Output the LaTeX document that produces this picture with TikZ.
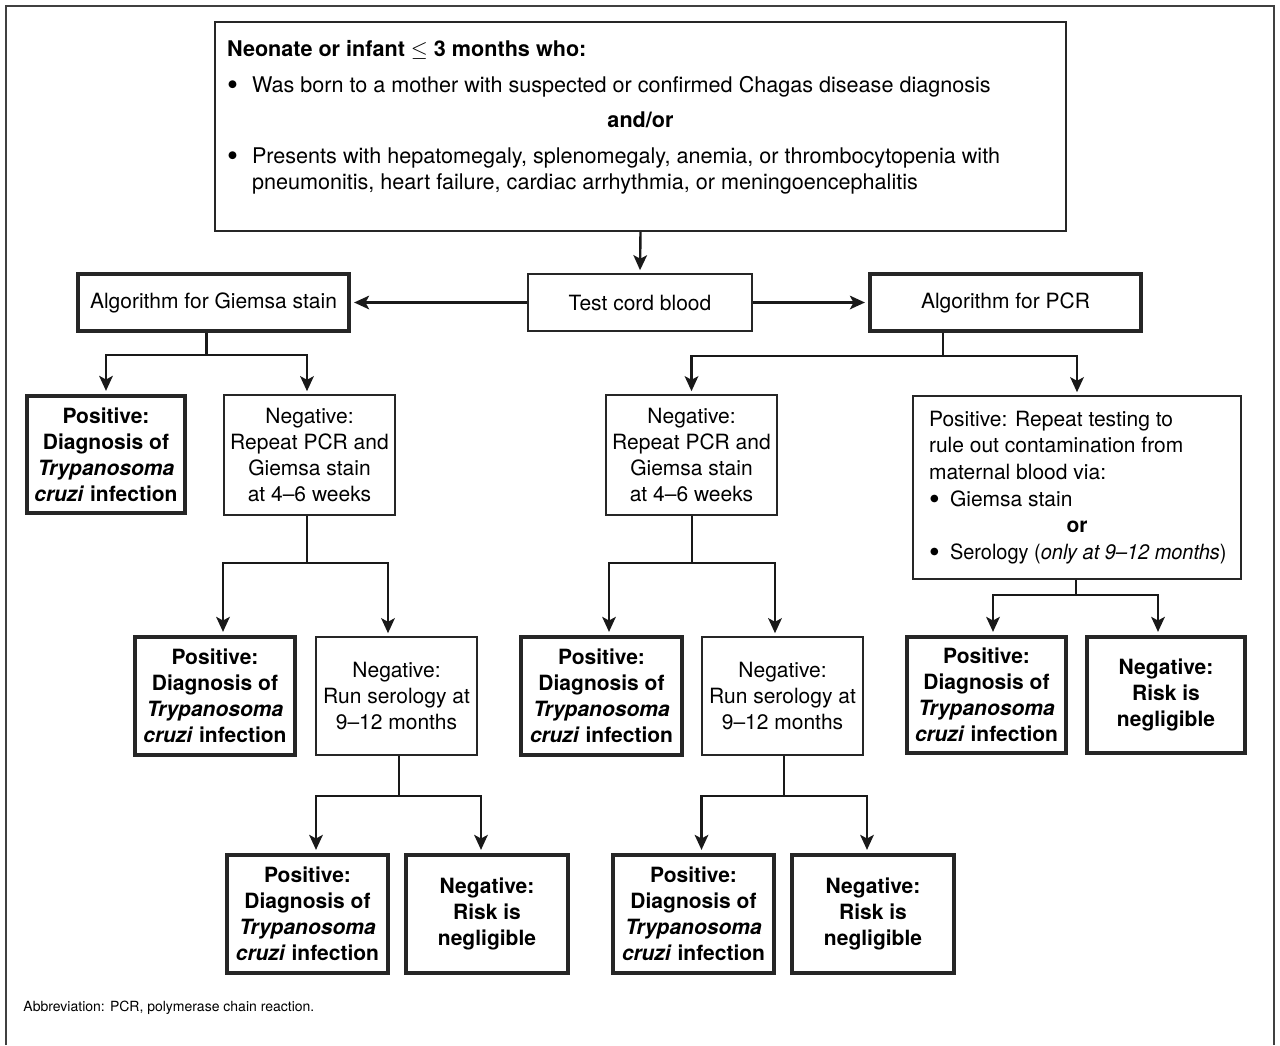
\documentclass[tikz,border=0pt]{standalone}
\usepackage{fontspec}
\setmainfont{TeX Gyre Heros}
\usetikzlibrary{arrows.meta}
\newcommand\boxfont{\fontsize{10.5pt}{13pt}\selectfont}
\newcommand\topfont{\fontsize{10.8pt}{13pt}\selectfont}
\newcommand\notefont{\fontsize{7pt}{8pt}\selectfont}
\newcommand\bigbul{\raisebox{-0.15em}{\scalebox{1.45}{\textbullet}}}
\tikzset{
  plainbox/.style={draw=black!85, line width=0.8pt, align=center, inner sep=0pt, font=\boxfont},
  boldbox/.style={plainbox, line width=2.1pt, font=\boxfont\bfseries},
  ln/.style={line width=1.2pt, draw=black!90},
  arr/.style={ln, -{Stealth[length=7.5pt,width=6.8pt,inset=1.8pt]}, shorten >=1.5pt},
  frameline/.style={line width=1pt, draw=black!75}
}
\begin{document}
\begin{tikzpicture}[x=0.5pt,y=-0.5pt]
\useasboundingbox (0,0) rectangle (1280,1045);
% outer frame (open at the bottom)
\coordinate (fbl) at (6,1045);
\coordinate (ftl) at (6,6);
\coordinate (ftr) at (1274,6);
\coordinate (fbr) at (1274,1045);
\draw[frameline] (fbl) -- (ftl) -- (ftr) -- (fbr);

% top box
\node[plainbox, minimum width=425.5pt, minimum height=104.5pt] (top) at (640.5,126.5) {%
\begin{minipage}{413.5pt}\setlength\parindent{0pt}\topfont
\textbf{Neonate or infant $\leq$ 3 months who:}\par\vspace{5pt}
\makebox[12.5pt][l]{\bigbul}Was born to a mother with suspected or confirmed Chagas disease diagnosis\par\vspace{4.5pt}
{\centering\textbf{and/or}\par}\vspace{5pt}
\hangindent=12.5pt\hangafter=1\makebox[12.5pt][l]{\bigbul}Presents with hepatomegaly, splenomegaly, anemia, or thrombocytopenia with\newline pneumonitis, heart failure, cardiac arrhythmia, or meningoencephalitis\par
\vspace{9.5pt}
\end{minipage}};

% second row
\node[plainbox, minimum width=112pt, minimum height=28.5pt] (cord) at (640,302.5) {Test cord blood};
\node[plainbox, line width=2.1pt, minimum width=135.5pt, minimum height=28.5pt] (giemsa) at (213.5,302.5) {Algorithm for Giemsa stain};
\node[plainbox, line width=2.1pt, minimum width=135.5pt, minimum height=28.5pt] (pcr) at (1005.5,302.5) {Algorithm for PCR};

% third row
\node[boldbox, minimum width=79pt, minimum height=58.5pt] (pos1) at (106,454.5) {Positive:\\Diagnosis of\\\textit{Trypanosoma}\\\textit{cruzi} infection};
\node[plainbox, minimum width=85.5pt, minimum height=60pt] (neg1) at (309.5,455) {Negative:\\Repeat PCR and\\Giemsa stain\\at 4--6 weeks};
\node[plainbox, minimum width=85.5pt, minimum height=60pt] (neg2) at (691.5,455) {Negative:\\Repeat PCR and\\Giemsa stain\\at 4--6 weeks};
\node[plainbox, minimum width=164pt, minimum height=91.5pt] (pcrpos) at (1077,487.5) {%
\begin{minipage}{148pt}\setlength\parindent{0pt}\fontsize{10.5pt}{13.35pt}\selectfont
Positive: Repeat testing to\par
rule out contamination from\par
maternal blood via:\par
\makebox[10.5pt][l]{\bigbul}Giemsa stain\par
{\centering\textbf{or}\par}
\mbox{\makebox[10.5pt][l]{\bigbul}\scalebox{0.95}[1]{Serology (\textit{only at 9--12 months})}}\par
\end{minipage}};

% fourth row
\node[boldbox, minimum width=80pt, minimum height=59pt] (pos2) at (215,696) {Positive:\\Diagnosis of\\\textit{Trypanosoma}\\\textit{cruzi} infection};
\node[plainbox, minimum width=80.5pt, minimum height=59pt] (ser1) at (396.5,696) {Negative:\\Run serology at\\9--12 months};
\node[boldbox, minimum width=80.5pt, minimum height=59pt] (pos3) at (601.5,696) {Positive:\\Diagnosis of\\\textit{Trypanosoma}\\\textit{cruzi} infection};
\node[plainbox, minimum width=80.5pt, minimum height=59pt] (ser2) at (782.5,696) {Negative:\\Run serology at\\9--12 months};
\node[boldbox, minimum width=79.5pt, minimum height=58pt] (pos4) at (986.5,695) {Positive:\\Diagnosis of\\\textit{Trypanosoma}\\\textit{cruzi} infection};
\node[boldbox, minimum width=79pt, minimum height=58pt] (negr1) at (1166,695) {Negative:\\Risk is\\negligible};

% fifth row
\node[boldbox, minimum width=80.5pt, minimum height=59pt] (pos5) at (307.5,914) {Positive:\\Diagnosis of\\\textit{Trypanosoma}\\\textit{cruzi} infection};
\node[boldbox, minimum width=81pt, minimum height=59pt] (negr2) at (487,914) {Negative:\\Risk is\\negligible};
\node[boldbox, minimum width=80.5pt, minimum height=59pt] (pos6) at (693.5,914) {Positive:\\Diagnosis of\\\textit{Trypanosoma}\\\textit{cruzi} infection};
\node[boldbox, minimum width=81pt, minimum height=59pt] (negr3) at (873,914) {Negative:\\Risk is\\negligible};

% note
\node[anchor=west, inner sep=0pt, font=\notefont] (note) at (23,1008) {Abbreviation: PCR, polymerase chain reaction.};

% connectors
\draw[arr] (top.south) -- (cord.north);
\draw[arr] (cord.west) -- (giemsa.east);
\draw[arr] (cord.east) -- (pcr.west);

\coordinate (j1) at (206.5,355);
\draw[ln] (giemsa.south -| j1) -- (j1);
\draw[arr] (j1) -| (pos1.north);
\draw[arr] (j1) -| ([xshift=-1.25pt]neg1.north);

\coordinate (j2) at (943,356);
\draw[ln] (pcr.south -| j2) -- (j2);
\draw[arr] (j2) -| (neg2.north);
\draw[arr] (j2) -| (pcrpos.north);

\coordinate (j3) at (307,563);
\draw[ln] (neg1.south -| j3) -- (j3);
\draw[arr] (j3) -| ([xshift=4pt]pos2.north);
\draw[arr] (j3) -| ([xshift=-4.25pt]ser1.north);

\coordinate (j4) at (692,563);
\draw[ln] (neg2.south -| j4) -- (j4);
\draw[arr] (j4) -| ([xshift=3.75pt]pos3.north);
\draw[arr] (j4) -| ([xshift=-3.75pt]ser2.north);

\coordinate (j5) at (1076,595);
\draw[ln] (pcrpos.south -| j5) -- (j5);
\draw[arr] (j5) -| ([xshift=3.25pt]pos4.north);
\draw[arr] (j5) -| ([xshift=-4pt]negr1.north);

\coordinate (j6) at (399,796);
\draw[ln] (ser1.south -| j6) -- (j6);
\draw[arr] (j6) -| ([xshift=4.25pt]pos5.north);
\draw[arr] (j6) -| ([xshift=-3pt]negr2.north);

\coordinate (j7) at (784,796);
\draw[ln] (ser2.south -| j7) -- (j7);
\draw[arr] (j7) -| ([xshift=4pt]pos6.north);
\draw[arr] (j7) -| ([xshift=-3pt]negr3.north);
\end{tikzpicture}
\end{document}
